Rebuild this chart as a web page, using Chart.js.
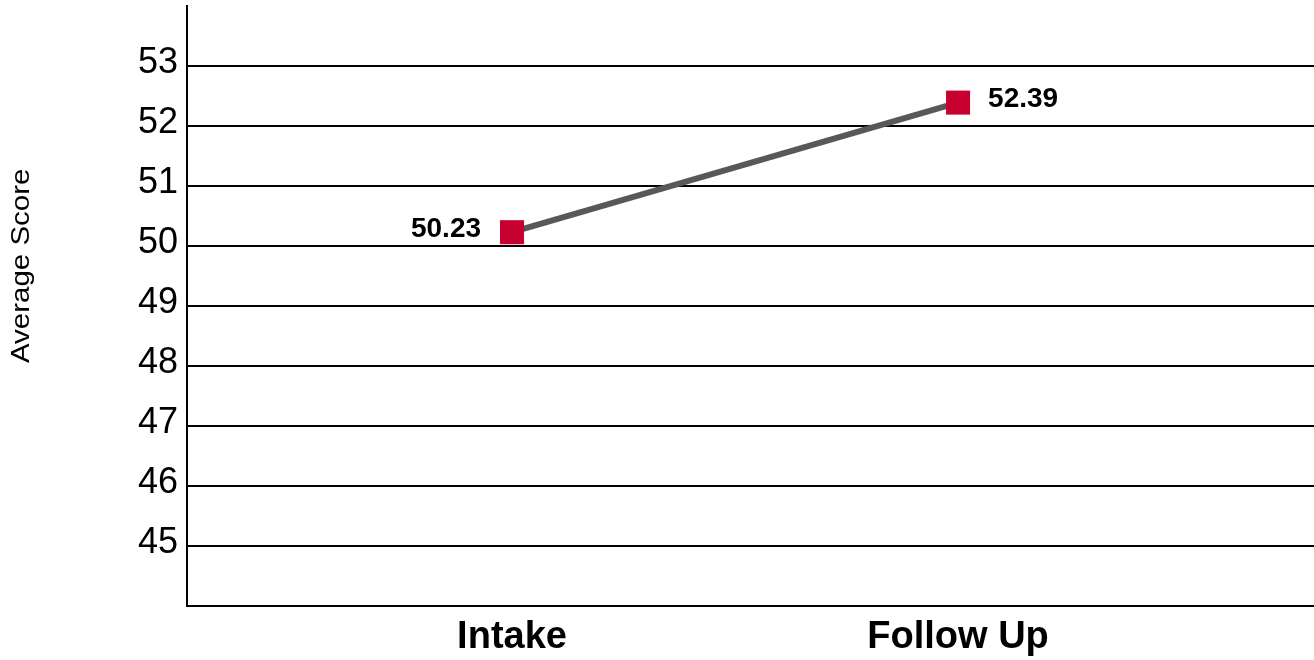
<!DOCTYPE html>
<html>
<head>
<meta charset="utf-8">
<script src="https://cdn.jsdelivr.net/npm/chart.js@4.4.1/dist/chart.umd.min.js"></script>
<style>
  html, body { margin: 0; padding: 0; background: #ffffff; overflow: hidden; }
  #wrap { width: 1314px; height: 660px; position: relative; }
  canvas { display: block; }
</style>
</head>
<body>
<div id="wrap"><canvas id="scoreChart"></canvas></div>
<script>
  const categories = ["Intake", "Follow Up"];
  const averageScores = [50.23, 52.39];
  const scoreLabels = ["50.23", "52.39"];
  const yTicks = [45, 46, 47, 48, 49, 50, 51, 52, 53];
  const yTitle = "Average Score";

  const FONT = "'Liberation Sans', Arial, Helvetica, sans-serif";

  // value labels next to each marker: first on the left, second on the right
  const valueLabels = {
    id: "valueLabels",
    afterDatasetsDraw: function (chart) {
      const ctx = chart.ctx;
      const meta = chart.getDatasetMeta(0);
      ctx.save();
      ctx.font = "bold 28px 'Liberation Sans Narrow', " + FONT;
      ctx.fillStyle = "#000000";
      ctx.textBaseline = "middle";
      meta.data.forEach(function (pt, i) {
        if (i === 0) {
          ctx.textAlign = "right";
          ctx.fillText(scoreLabels[i], pt.x - 31, pt.y - 3);
        } else {
          ctx.textAlign = "left";
          ctx.fillText(scoreLabels[i], pt.x + 30, pt.y - 3);
        }
      });
      ctx.restore();
    }
  };

  // rotated y title, sits a bit above the middle of the axis like the original
  const sideTitle = {
    id: "sideTitle",
    afterDraw: function (chart) {
      const ctx = chart.ctx;
      const y = chart.scales.y.getPixelForValue(49.67);
      ctx.save();
      ctx.translate(22, y);
      ctx.rotate(-Math.PI / 2);
      ctx.scale(1.18, 1);
      ctx.font = "25px " + FONT;
      ctx.fillStyle = "#000000";
      ctx.textAlign = "center";
      ctx.textBaseline = "middle";
      ctx.fillText(yTitle, 0, 0);
      ctx.restore();
    }
  };

  const points = averageScores.map(function (v, i) { return { x: i, y: v }; });

  new Chart(document.getElementById("scoreChart"), {
    type: "line",
    data: {
      datasets: [{
        label: yTitle,
        data: points,
        borderColor: "#58585a",
        borderWidth: 6,
        pointStyle: "rect",
        pointRadius: 17,
        pointHoverRadius: 17,
        pointBorderWidth: 0,
        pointBackgroundColor: "#c8002f",
        pointBorderColor: "#c8002f",
        tension: 0
      }]
    },
    options: {
      responsive: true,
      maintainAspectRatio: false,
      animation: false,
      layout: { autoPadding: false, padding: { top: 6, right: 0, left: 0, bottom: 0 } },
      plugins: {
        legend: { display: false },
        tooltip: { enabled: false }
      },
      scales: {
        x: {
          type: "linear",
          min: -0.7287,
          max: 1.798,
          afterBuildTicks: function (scale) {
            scale.ticks = categories.map(function (c, i) { return { value: i }; });
          },
          afterFit: function (scale) {
            scale.height = 54;
            scale.paddingLeft = 0;
            scale.paddingRight = 0;
          },
          grid: { display: false, drawTicks: false },
          border: { display: true, color: "#000000", width: 2 },
          ticks: {
            autoSkip: false,
            maxRotation: 0,
            padding: 9,
            color: "#000000",
            font: { family: FONT, size: 38, weight: "bold" },
            callback: function (value) { return categories[value] || ""; }
          }
        },
        y: {
          min: 44,
          max: 54,
          afterBuildTicks: function (scale) {
            scale.ticks = [44].concat(yTicks, [54]).map(function (v) { return { value: v }; });
          },
          afterFit: function (scale) {
            scale.width = 187;
            scale.paddingTop = 0;
            scale.paddingBottom = 0;
          },
          grid: {
            drawTicks: false,
            lineWidth: 2,
            color: function (c) {
              return yTicks.indexOf(c.tick.value) >= 0 ? "#000000" : "rgba(0,0,0,0)";
            }
          },
          border: { display: true, color: "#000000", width: 2 },
          ticks: {
            padding: 9,
            labelOffset: -3,
            color: "#000000",
            font: { family: FONT, size: 36 },
            callback: function (value) { return yTicks.indexOf(value) >= 0 ? String(value) : ""; }
          }
        }
      }
    },
    plugins: [valueLabels, sideTitle]
  });
</script>
</body>
</html>
